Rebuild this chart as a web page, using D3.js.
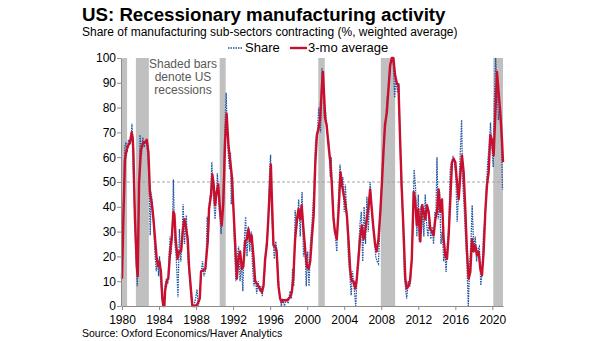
<!DOCTYPE html>
<html>
<head>
<meta charset="utf-8">
<script src="https://cdn.jsdelivr.net/npm/d3@7"></script>
<style>
  body { margin: 0; background: #fff; }
  text { font-family: "Liberation Sans", Arial, sans-serif; }
</style>
</head>
<body>
<figure style="margin:0"></figure>
<script>
// [decimal year, % of sub-sectors contracting]
var share = [
  [1980.0,15],[1980.15,40],[1980.3,64],[1980.42,66],[1980.55,62],[1980.7,67],[1980.85,65],[1980.97,68],[1981.08,73.5],[1981.2,56],[1981.35,40],[1981.5,20],[1981.65,8],[1981.8,42],[1981.95,69],[1982.1,61],[1982.25,68],[1982.4,64],[1982.55,67],[1982.7,65],[1982.85,57],[1982.95,47],[1983.05,28.5],[1983.15,46],[1983.3,40],[1983.45,31],[1983.55,22],[1983.7,14],[1983.85,19],[1983.95,12],[1984.05,20],[1984.15,11],[1984.3,5],[1984.4,0],[1984.55,0],[1984.65,8],[1984.8,11],[1984.95,9],[1985.05,18],[1985.2,28],[1985.3,21],[1985.45,32],[1985.55,51],[1985.7,26],[1985.85,20],[1986.05,3.5],[1986.2,31],[1986.35,18],[1986.5,28],[1986.6,41],[1986.75,25],[1986.95,36.6],[1987.1,20],[1987.3,12],[1987.45,4],[1987.55,0],[1987.75,0],[1987.95,3],[1988.1,6.7],[1988.25,0],[1988.4,4],[1988.55,13],[1988.7,18],[1988.85,12],[1989.0,14],[1989.1,21],[1989.2,36],[1989.35,30],[1989.45,42],[1989.6,47],[1989.7,58],[1989.82,47],[1989.92,42],[1990.05,35],[1990.2,44],[1990.3,53.5],[1990.45,42],[1990.6,35],[1990.7,29],[1990.85,38],[1990.95,48],[1991.1,70],[1991.25,86],[1991.4,66],[1991.5,60],[1991.62,55],[1991.72,62],[1991.8,41],[1991.95,52],[1992.1,30],[1992.3,10],[1992.45,20],[1992.6,24],[1992.75,10],[1992.9,18],[1993.05,6],[1993.2,25],[1993.35,36],[1993.5,20],[1993.65,32],[1993.8,22],[1993.95,30],[1994.1,16],[1994.25,8],[1994.4,12],[1994.55,5],[1994.7,10],[1994.85,6],[1995.0,8],[1995.15,4],[1995.3,9],[1995.45,16],[1995.6,25],[1995.75,30],[1995.85,42],[1995.95,55],[1996.05,61],[1996.15,38],[1996.3,28],[1996.45,19],[1996.6,26],[1996.75,22],[1996.9,10],[1997.0,5],[1997.2,0],[1997.35,3],[1997.55,0],[1997.75,3],[1997.95,1],[1998.15,6],[1998.3,3],[1998.42,15],[1998.55,8],[1998.7,38.6],[1998.85,31],[1999.0,36],[1999.08,43],[1999.25,28],[1999.45,46],[1999.6,20],[1999.75,26],[1999.9,8],[2000.05,22],[2000.2,8],[2000.35,25],[2000.55,35],[2000.75,48],[2000.9,66],[2001.1,70],[2001.25,80],[2001.45,70],[2001.6,96],[2001.75,86],[2001.85,76],[2002.0,78],[2002.15,70],[2002.35,66],[2002.5,52],[2002.6,60],[2002.75,40],[2002.9,32],[2003.05,28],[2003.2,22],[2003.35,40],[2003.55,57],[2003.7,48],[2003.85,52],[2004.0,38],[2004.12,49],[2004.3,35],[2004.45,20],[2004.6,13],[2004.75,4.3],[2004.9,14],[2005.05,8],[2005.25,0],[2005.4,14],[2005.55,22],[2005.7,33],[2005.85,38],[2006.0,18],[2006.15,40],[2006.3,25],[2006.45,44],[2006.6,30],[2006.8,50],[2006.95,40],[2007.1,32],[2007.25,30],[2007.4,20],[2007.55,18],[2007.7,17],[2007.85,32],[2008.0,45],[2008.15,58],[2008.3,68],[2008.45,72],[2008.6,82],[2008.8,89],[2009.0,98],[2009.15,100],[2009.3,98],[2009.45,84],[2009.6,92],[2009.75,86],[2009.9,90],[2010.0,72],[2010.15,50],[2010.28,40],[2010.4,25],[2010.5,12],[2010.65,6],[2010.75,3],[2010.9,10],[2011.1,8],[2011.25,14],[2011.4,30],[2011.55,55],[2011.7,48],[2011.85,28],[2012.0,45],[2012.1,26],[2012.25,40],[2012.35,30],[2012.5,41],[2012.6,28],[2012.75,45],[2012.9,33],[2013.05,28],[2013.2,36],[2013.35,27],[2013.5,32],[2013.65,25],[2013.8,38],[2013.9,36],[2014.02,60],[2014.15,35],[2014.3,46],[2014.45,25],[2014.6,30],[2014.75,18],[2014.9,22],[2015.0,13.7],[2015.15,25],[2015.3,32],[2015.45,55],[2015.6,58],[2015.75,60],[2015.9,58],[2016.05,53],[2016.2,34],[2016.35,45],[2016.55,63],[2016.68,75],[2016.8,50],[2016.95,40],[2017.1,28],[2017.25,18],[2017.4,0],[2017.55,16],[2017.7,27],[2017.82,40.6],[2018.0,22],[2018.15,28],[2018.3,18],[2018.45,23],[2018.6,24],[2018.75,8.3],[2018.9,14],[2019.05,30],[2019.2,34],[2019.35,48],[2019.5,58],[2019.65,64],[2019.8,74],[2019.95,64],[2020.1,56],[2020.2,80],[2020.35,100],[2020.5,90],[2020.65,75],[2020.8,80],[2020.95,70],[2021.1,47]
];

var avg3 = [
  [1980.0,11],[1980.15,35],[1980.32,59],[1980.5,63],[1980.7,65],[1980.86,66],[1981.05,70],[1981.15,68],[1981.23,62],[1981.4,35],[1981.6,16],[1981.7,12],[1981.84,49],[1982.05,63],[1982.3,66],[1982.5,66],[1982.67,67],[1982.85,62],[1983.03,45],[1983.2,42],[1983.4,35],[1983.57,27],[1983.75,19],[1983.93,16],[1984.04,18],[1984.2,14],[1984.36,3],[1984.47,0],[1984.58,0],[1984.65,6],[1984.83,10],[1985.0,11],[1985.2,22],[1985.37,27],[1985.55,38],[1985.66,37],[1985.8,27],[1986.0,19],[1986.16,22],[1986.38,22],[1986.56,30],[1986.74,35],[1986.88,32.5],[1987.1,27],[1987.24,16],[1987.46,6],[1987.6,0],[1987.9,0],[1988.1,0.5],[1988.25,1.6],[1988.4,3],[1988.54,14],[1988.8,14.4],[1989.0,15],[1989.26,26],[1989.4,39],[1989.62,45],[1989.76,53],[1989.9,49],[1990.05,40.6],[1990.23,46],[1990.4,49],[1990.6,38],[1990.77,32.5],[1990.95,42],[1991.13,66],[1991.3,77.5],[1991.5,65],[1991.67,59],[1991.85,53],[1992.0,42],[1992.2,27],[1992.4,11],[1992.58,19],[1992.76,22],[1992.94,15],[1993.1,16],[1993.3,26],[1993.48,27],[1993.66,31],[1993.84,26],[1994.0,28.5],[1994.2,20],[1994.38,10],[1994.74,8],[1995.1,5.6],[1995.28,8],[1995.46,19],[1995.64,24.5],[1995.8,35],[1996.0,50],[1996.08,57],[1996.2,42],[1996.36,24.5],[1996.54,24],[1996.7,22],[1996.9,8],[1997.08,3],[1997.26,1.6],[1997.44,2.3],[1997.8,2.3],[1998.16,3.6],[1998.34,5.6],[1998.5,11],[1998.7,27],[1998.9,35],[1999.06,39],[1999.24,35],[1999.4,40.6],[1999.6,31],[1999.8,22],[1999.97,16],[2000.15,15],[2000.33,18],[2000.5,27],[2000.7,36.5],[2000.87,57],[2001.05,69],[2001.23,71.5],[2001.4,75.5],[2001.6,89],[2001.7,94.4],[2001.85,83.6],[2001.95,75.5],[2002.1,73],[2002.3,65],[2002.5,58],[2002.67,48.7],[2002.85,35],[2003.0,30],[2003.2,27],[2003.4,39],[2003.6,54],[2003.77,48.7],[2003.95,44.6],[2004.1,42],[2004.3,36],[2004.46,27],[2004.64,15],[2004.8,10],[2005.0,10],[2005.2,7],[2005.36,11],[2005.54,19],[2005.7,27],[2005.9,32.5],[2006.1,27],[2006.26,30],[2006.44,35],[2006.6,39],[2006.8,47],[2006.98,39],[2007.16,31],[2007.34,24.5],[2007.5,22],[2007.7,27],[2007.9,38],[2008.06,48.7],[2008.24,62],[2008.4,73],[2008.6,78],[2008.78,87.6],[2008.96,97],[2009.14,100],[2009.3,100],[2009.5,93],[2009.7,89.6],[2009.86,89],[2010.0,71.5],[2010.2,48.7],[2010.4,31],[2010.6,11],[2010.76,7],[2010.94,8],[2011.1,10],[2011.3,19],[2011.5,46],[2011.66,43],[2011.84,32.5],[2012.0,39],[2012.22,26],[2012.4,40.6],[2012.58,38],[2012.76,35],[2012.94,40.6],[2013.12,38],[2013.3,31],[2013.48,30],[2013.66,28.5],[2013.84,35],[2014.02,38],[2014.2,47],[2014.38,38],[2014.56,43],[2014.74,27],[2014.92,20.4],[2015.1,19],[2015.28,28.5],[2015.46,43],[2015.64,58],[2015.82,59.4],[2016.0,58],[2016.18,50],[2016.36,43],[2016.54,52.7],[2016.72,60.7],[2016.9,54],[2017.08,39],[2017.26,22],[2017.44,11],[2017.62,13.7],[2017.8,27],[2017.98,22],[2018.16,24.5],[2018.34,20.4],[2018.52,22],[2018.7,15],[2018.88,12.4],[2019.06,22],[2019.24,38],[2019.42,48.7],[2019.6,54],[2019.78,69],[2019.96,67],[2020.14,60.7],[2020.32,77],[2020.5,94.4],[2020.68,86],[2020.86,78],[2021.04,67],[2021.15,58]
];

var recessions = [[1980.0,1980.55],[1981.5,1982.9],[1990.55,1991.2],[2001.2,2001.9],[2007.95,2009.5],[2020.1,2021.15]];
var xTicks = [1980,1984,1988,1992,1996,2000,2004,2008,2012,2016,2020];
var yTicks = [0,10,20,30,40,50,60,70,80,90,100];

var W = 605, H = 341,
    margin = {top: 58, right: 102, bottom: 35, left: 122},
    width = W - margin.left - margin.right,
    height = H - margin.top - margin.bottom;

var svg = d3.select("figure").append("svg").attr("width", W).attr("height", H);

var x = d3.scaleLinear().domain([1980, 2021.15]).range([margin.left, margin.left + width]);
var y = d3.scaleLinear().domain([0, 100]).range([margin.top + height, margin.top]);

// recession shading
svg.append("g").selectAll("rect").data(recessions).join("rect")
    .attr("x", d => x(d[0])).attr("width", d => x(d[1]) - x(d[0]))
    .attr("y", y(100)).attr("height", y(0) - y(100))
    .attr("fill", "#c0c0c0");

// 50 reference line
svg.append("line")
    .attr("x1", x.range()[0]).attr("x2", x.range()[1])
    .attr("y1", y(50)).attr("y2", y(50))
    .attr("stroke", "#a6a6a6").attr("stroke-dasharray", "3,2");

var line = d3.line().x(d => x(d[0])).y(d => y(d[1]));

svg.append("path").datum(share).attr("d", line)
    .attr("fill", "none").attr("stroke", "#2356a0").attr("stroke-width", 1.3)
    .attr("stroke-dasharray", "1.5,1");

svg.append("path").datum(avg3).attr("d", line)
    .attr("fill", "none").attr("stroke", "#c8102e").attr("stroke-width", 2.4)
    .attr("stroke-linejoin", "round");

// axes
var xAxis = svg.append("g").attr("transform", "translate(0," + y(0) + ")")
    .call(d3.axisBottom(x).tickValues(xTicks).tickFormat(d3.format("d")).tickSize(4).tickSizeOuter(0));
var yAxis = svg.append("g").attr("transform", "translate(" + (margin.left - 1) + ",0)")
    .call(d3.axisLeft(y).tickValues(yTicks).tickSize(4).tickSizeOuter(0));
[xAxis, yAxis].forEach(function(a) {
  a.select(".domain").attr("stroke", "#8c8c8c");
  a.selectAll(".tick line").attr("stroke", "#8c8c8c");
  a.selectAll(".tick text").attr("fill", "#000").style("font-family", "Liberation Sans, Arial, sans-serif");
});
xAxis.selectAll(".tick text").style("font-size", "12px").attr("dy", "0.95em");
yAxis.selectAll(".tick text").style("font-size", "12px").attr("x", -5);

// titles
svg.append("text").attr("x", 82).attr("y", 21)
    .style("font-size", "18.7px").style("font-weight", "bold")
    .text("US: Recessionary manufacturing activity");
svg.append("text").attr("x", 82).attr("y", 36)
    .style("font-size", "12px")
    .text("Share of manufacturing sub-sectors contracting (%, weighted average)");

// legend
var lg = svg.append("g");
lg.append("line").attr("x1", 228).attr("x2", 243).attr("y1", 48).attr("y2", 48)
    .attr("stroke", "#2356a0").attr("stroke-width", 1.3).attr("stroke-dasharray", "1.5,1");
lg.append("text").attr("x", 245).attr("y", 52).style("font-size", "13px").text("Share");
lg.append("line").attr("x1", 290).attr("x2", 307).attr("y1", 48).attr("y2", 48)
    .attr("stroke", "#c8102e").attr("stroke-width", 2.4);
lg.append("text").attr("x", 308).attr("y", 52).style("font-size", "13px").text("3-mo average");

// annotation
svg.append("text").attr("text-anchor", "middle").attr("fill", "#595959")
    .style("font-size", "12px")
    .selectAll("tspan").data(["Shaded bars", "denote US", "recessions"]).join("tspan")
    .attr("x", 183).attr("y", (d, i) => 68 + i * 13).text(d => d);

// source
svg.append("text").attr("x", 82).attr("y", 337).style("font-size", "10.5px")
    .text("Source: Oxford Economics/Haver Analytics");
</script>
</body>
</html>
